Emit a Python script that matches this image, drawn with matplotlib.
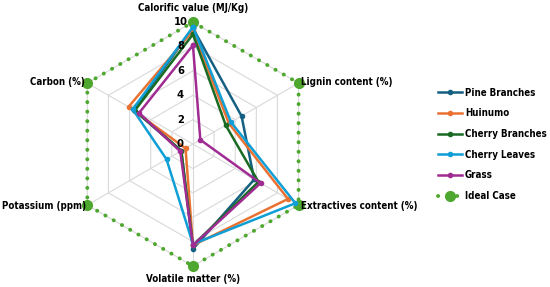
#!/usr/bin/env python3
import numpy as np
import matplotlib
matplotlib.use("Agg")
import matplotlib.pyplot as plt
from matplotlib.lines import Line2D

# axes clockwise from top
axis_labels = [
    "Calorific value (MJ/Kg)",
    "Lignin content (%)",
    "Extractives content (%)",
    "Volatile matter (%)",
    "Potassium (ppm)",
    "Carbon (%)",
]

series_names = ["Pine Branches", "Huinumo", "Cherry Branches", "Cherry Leaves", "Grass"]
pine_branches = [9.5, 4.6, 5.8, 8.6, 1.1, 5.6]
huinumo = [9.3, 3.4, 9.0, 8.3, 0.7, 6.1]
cherry_branches = [9.0, 3.1, 6.2, 8.3, 1.1, 5.5]
cherry_leaves = [9.6, 3.6, 9.7, 8.2, 2.5, 5.7]
grass = [8.1, 0.7, 6.4, 8.3, 1.2, 5.1]
ideal_case = [10, 10, 10, 10, 10, 10]

tick_values = [0, 2, 4, 6, 8, 10]

colors = ["#156082", "#E97132", "#196B24", "#0F9ED5", "#A02B93"]
ideal_color = "#4EA72E"


def closed(vals):
    return list(vals) + [vals[0]]


def main():
    plt.rcParams["font.family"] = ["DejaVu Sans"]
    plt.rcParams["font.stretch"] = "condensed"
    fig = plt.figure(figsize=(5.5, 2.87), dpi=100)
    ax = fig.add_axes([0.129, 0.073, 0.4436, 0.85], projection="polar")
    ax.set_theta_zero_location("N")
    ax.set_theta_direction(-1)

    n = len(axis_labels)
    theta = np.linspace(0, 2 * np.pi, n, endpoint=False)
    th = closed(list(theta))

    ax.set_ylim(0, 10)
    ax.grid(False)
    ax.spines["polar"].set_visible(False)
    ax.set_xticks([])
    ax.set_yticks([])

    # hexagon grid and spokes
    for lvl in tick_values[1:]:
        ax.plot(th, [lvl] * (n + 1), color="#D9D9D9", lw=0.8, zorder=1)
    for t in theta:
        ax.plot([t, t], [0, 10], color="#D9D9D9", lw=0.8, zorder=1)

    # ideal case
    ax.plot(th, closed(ideal_case), color=ideal_color, lw=2.8,
            linestyle=(0, (0.05, 2.4)), dash_capstyle="round", zorder=2)
    ax.plot(theta, ideal_case, "o", color=ideal_color, ms=7, zorder=3,
            clip_on=False)

    data = [pine_branches, huinumo, cherry_branches, cherry_leaves, grass]
    for vals, col, name in zip(data, colors, series_names):
        ax.plot(th, closed(vals), color=col, lw=1.8, marker="o", ms=3,
                zorder=4, clip_on=False)

    for v in tick_values:
        ax.annotate(str(v), (0, v), xytext=(-9, 0), textcoords="offset points",
                    ha="center", va="center", fontsize=8, fontweight="bold",
                    zorder=6)

    # axis labels
    fs = 7.0
    ax.text(theta[0], 11.15, axis_labels[0], ha="center", va="center",
            fontsize=fs, fontweight="bold")
    ax.text(theta[1], 10.2, axis_labels[1], ha="left", va="center",
            fontsize=fs, fontweight="bold")
    ax.text(theta[2], 10.2, axis_labels[2], ha="left", va="center",
            fontsize=fs, fontweight="bold")
    ax.text(theta[3], 11.1, axis_labels[3], ha="center", va="center",
            fontsize=fs, fontweight="bold")
    ax.text(theta[4], 10.1, axis_labels[4], ha="right", va="center",
            fontsize=fs, fontweight="bold")
    ax.text(theta[5], 10.25, axis_labels[5], ha="right", va="center",
            fontsize=fs, fontweight="bold")

    handles = [Line2D([], [], color=c, lw=1.8, marker="o", ms=3) for c in colors]
    handles.append(Line2D([], [], color=ideal_color, lw=2.8,
                          linestyle=(0, (0.05, 2.4)), dash_capstyle="round",
                          marker="o", ms=7, markevery=[1]))
    fig.legend(handles, series_names + ["Ideal Case"],
               loc="upper left", bbox_to_anchor=(0.78, 0.725),
               frameon=False, handlelength=2.5, handletextpad=0.3,
               labelspacing=1.1,
               prop={"size": 7.0, "weight": "bold", "stretch": "condensed"})

    fig.savefig("out.png", dpi=100)
    plt.close(fig)


if __name__ == "__main__":
    main()
